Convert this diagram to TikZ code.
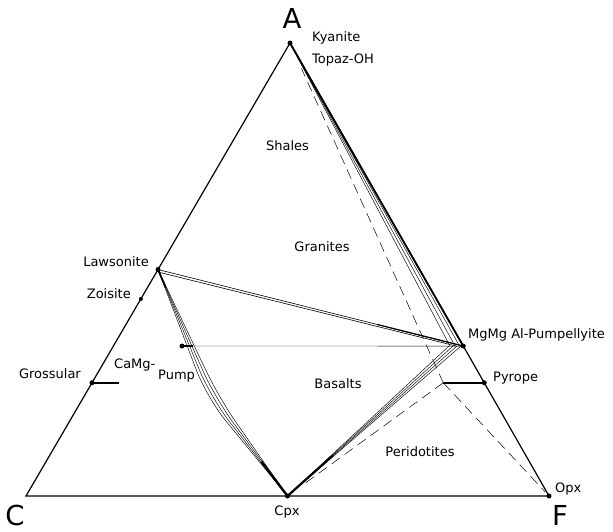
\documentclass[tikz,border=0pt]{standalone}
\usepackage{fontspec}
\setmainfont{DejaVu Sans}
\usetikzlibrary{calc}
\begin{document}
\begin{tikzpicture}[x=1pt,y=-1pt,
  lbl/.style={inner sep=0pt, font=\fontsize{13}{15}\selectfont},
  big/.style={inner sep=0pt, font=\fontsize{27.5}{30}\selectfont},
  edgeline/.style={line width=1.2pt, line join=miter},
  tie/.style={line width=0.45pt},
  bar/.style={line width=2.4pt},
  dashline/.style={line width=0.5pt, dash pattern=on 10pt off 6pt},
]
\useasboundingbox (0,0) rectangle (613,531);
% key points
\coordinate (A) at (290,43);
\coordinate (C) at (26,496);
\coordinate (F) at (549,496);
\coordinate (Cpx) at ($(C)!0.5!(F)$);
\coordinate (Law) at ($(A)!0.5!(C)$);
\coordinate (Zoi) at ($(A)!0.565!(C)$);
\coordinate (Gro) at ($(A)!0.75!(C)$);
\coordinate (Pyr) at ($(A)!0.75!(F)$);
\coordinate (MgP) at ($(A)!0.669!(F)$);
\coordinate (CaP) at (182,346);
\coordinate (X) at ($(Pyr)+(-41,0)$);
\coordinate (GroE) at ($(Gro)+(27,0)$);
% triangle
\draw[edgeline] (A) -- (C) -- (F) -- cycle;
\draw[line width=1.8pt] (A) -- (MgP);
% A fan
\foreach \x in {450,455,459.5} \draw[tie] (A) -- (\x,346);
% Cpx - MgMgAl fan
\foreach \x in {449,453,457,461} \draw[tie] (Cpx) -- (\x,346);
\draw[line width=2.2pt] (Cpx) -- ($(Cpx)!0.27!(455,346)$);
% Lawsonite - Cpx fan
\foreach \x in {207,211,215,219} \draw[tie, rounded corners=30pt] (Law) -- (\x,398) -- (Cpx);
\draw[line width=2.4pt] (Cpx) -- ($(Cpx)!0.35!(213,398)$);
\draw[line width=1.8pt] (Law) -- ($(Law)!0.14!(213,398)$);
% Lawsonite - MgMgAl double line
\draw[line width=0.6pt] (Law) -- (MgP);
\draw[line width=0.6pt] ($(Law)+(0,2.5)$) -- (456,346);
\draw[line width=1.2pt] ($(Law)!0.72!(MgP)$) -- (MgP);
% CaMg-Pump - MgMgAl-Pump
\draw[line width=0.4pt] (CaP) -- (MgP);
\draw[line width=2pt] (CaP) -- (193,346);
% bars
\draw[bar] (Gro) -- (GroE);
\draw[bar] (X) -- (Pyr);
% dashed
\draw[dashline, shorten >=28pt] (X) -- (A);
\draw[dashline, shorten >=18pt] (X) -- (Cpx);
\draw[dashline, shorten >=6pt] (X) -- (F);
% dots
\foreach \p in {A,Law,Gro,CaP,MgP,Pyr,Cpx,F} \fill (\p) circle (2.5pt);
\fill (Zoi) circle (2pt);
% labels
\node[big, anchor=base] (tA) at (292,28.3) {A};
\node[big, anchor=base] (tC) at (15,525) {C};
\node[big, anchor=base] (tF) at (560,525) {F};
\node[lbl, anchor=base west] (tKy) at (312,41.7) {Kyanite};
\node[lbl, anchor=base west] (tTo) at (312,63.3) {Topaz-OH};
\node[lbl, anchor=base] (tSh) at (287.5,150) {Shales};
\node[lbl, anchor=base] (tGr) at (322,251) {Granites};
\node[lbl, anchor=base east] (tLaw) at (149,266.7) {Lawsonite};
\node[lbl, anchor=base east] (tZoi) at (131,298.3) {Zoisite};
\node[lbl, anchor=base east] (tGro) at (81,378.3) {Grossular};
\node[lbl, anchor=base west] (tCaMg) at (114,368.3) {CaMg-};
\node[lbl, anchor=base west] (tPump) at (158,379) {Pump};
\node[lbl, anchor=base west] (tMgP) at (468,338.3) {MgMg Al-Pumpellyite};
\node[lbl, anchor=base west] (tPyr) at (493,381.7) {Pyrope};
\node[lbl, anchor=base] (tBas) at (338,388.3) {Basalts};
\node[lbl, anchor=base] (tPer) at (420,456) {Peridotites};
\node[lbl, anchor=base] (tCpx) at (287,515) {Cpx};
\node[lbl, anchor=base west] (tOpx) at (555,492) {Opx};
\end{tikzpicture}
\end{document}
